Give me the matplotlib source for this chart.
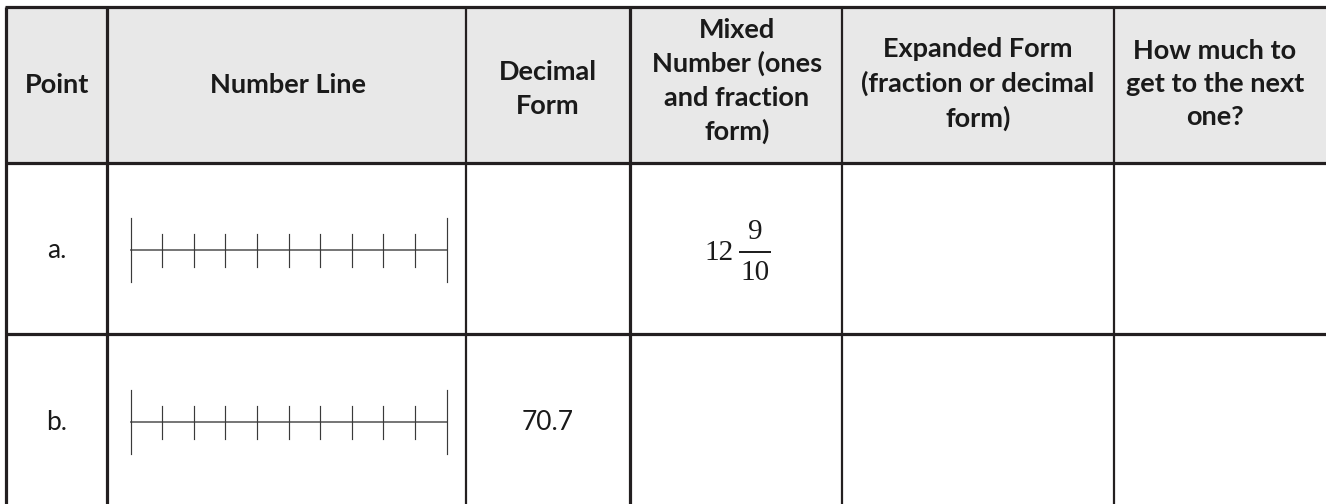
import matplotlib
matplotlib.use("Agg")
import matplotlib.pyplot as plt

# ---------------- data ----------------
headers = ["Point", "Number Line", "Decimal\nForm",
           "Mixed\nNumber (ones\nand fraction\nform)",
           "Expanded Form\n(fraction or decimal\nform)",
           "How much to\nget to the next\none?"]
points = ["a.", "b."]
decimal_forms = ["", "70.7"]
mixed_whole = ["12", ""]
mixed_numer = ["9", ""]
mixed_denom = ["10", ""]
tick_values = [0, 1, 2, 3, 4, 5, 6, 7, 8, 9, 10]

# ---------------- layout ----------------
W, H = 1326, 504
col_edges = [6, 107, 466, 630, 842, 1114, 1326]
row_edges = [7, 163, 334, 504]
header_x = [57, 288, 548, 737, 978, 1215]
line_col = "#231f20"
hdr_fill = "#e8e8e8"
font = "Lato"

fig = plt.figure(figsize=(W / 100, H / 100), dpi=100)
ax = fig.add_axes([0, 0, 1, 1])
ax.set_xlim(0, W)
ax.set_ylim(H, 0)
ax.axis("off")

# header background
ax.fill_between([col_edges[0], col_edges[-1]], row_edges[0], row_edges[1],
                color=hdr_fill, lw=0, zorder=0)

# horizontal rules
for y in row_edges[:3]:
    ax.plot([col_edges[0] - 1.5, W], [y, y], color=line_col, lw=2.3,
            solid_capstyle="butt", zorder=3)
# vertical rules
vlw = [2.3, 2.3, 1.6, 2.3, 1.6, 1.6]
for x, lw in zip(col_edges[:-1], vlw):
    ax.plot([x, x], [row_edges[0], H], color=line_col, lw=lw,
            solid_capstyle="butt", zorder=3)

# header texts
hdr_y = [85, 85, 89, 81, 84, 84]
for x, y, t in zip(header_x, hdr_y, headers):
    ax.text(x, y, t, ha="center", va="center",
            fontsize=19.5, fontweight="bold", family=font, color="#1a1a1a",
            linespacing=1.45, zorder=4)

# body rows
nl_x0, nl_x1 = 130.5, 446.5
row_centers = [250, 422]
for i, yc in enumerate(row_centers):
    ax.text(header_x[0], yc, points[i], ha="center", va="center",
            fontsize=19, family=font, color="#1a1a1a")
    # number line
    xs = [nl_x0 + (nl_x1 - nl_x0) * v / tick_values[-1] for v in tick_values]
    ax.plot([xs[0], xs[-1]], [yc, yc], color="#6a6a6a", lw=1.3, zorder=2)
    for k, x in enumerate(xs):
        half = 32 if k in (0, len(xs) - 1) else 16.5
        ax.plot([x, x], [yc - half, yc + half], color="#3a3a3a", lw=0.85,
                zorder=2)
    if decimal_forms[i]:
        ax.text(header_x[2], yc, decimal_forms[i], ha="center", va="center",
                fontsize=19, family=font, color="#1a1a1a")
    if mixed_whole[i]:
        ax.text(734, yc + 3, mixed_whole[i], ha="right", va="center",
                fontsize=21, family="Liberation Serif", color="#1a1a1a")
        ax.plot([739, 771], [yc + 2, yc + 2], color="#1a1a1a", lw=1.4,
                solid_capstyle="butt")
        ax.text(755, yc - 18, mixed_numer[i], ha="center", va="center",
                fontsize=21, family="Liberation Serif", color="#1a1a1a")
        ax.text(755, yc + 23, mixed_denom[i], ha="center", va="center",
                fontsize=21, family="Liberation Serif", color="#1a1a1a")

fig.savefig("out.png", dpi=100, facecolor="white")
